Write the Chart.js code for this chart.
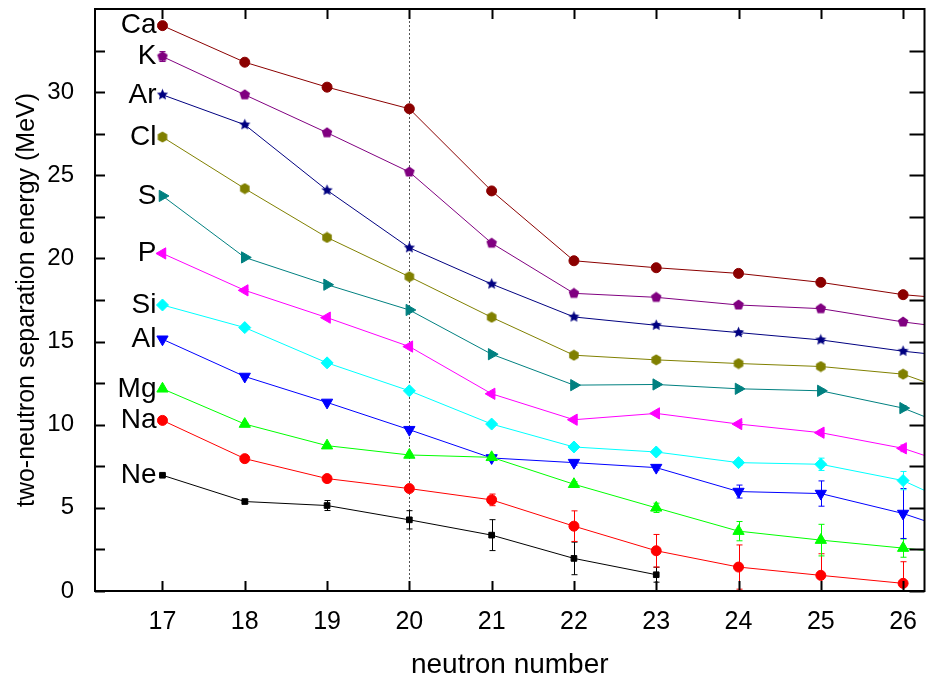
<!DOCTYPE html>
<html>
<head>
<meta charset="utf-8">
<script src="https://cdn.jsdelivr.net/npm/chart.js@4.4.1/dist/chart.umd.min.js"></script>
<style>
  html, body { margin: 0; padding: 0; background: #fff; overflow: hidden; }
  #wrap { width: 932px; height: 679px; }
</style>
</head>
<body>
<div id="wrap"><canvas id="chart" width="932" height="679"></canvas></div>
<script>
// Two-neutron separation energies (MeV) per neutron number, one array per element.
// The values at N=27 sit just outside the frame; only their line segments show.
const neutronNumbers = [17, 18, 19, 20, 21, 22, 23, 24, 25, 26, 27];
const xTicks = [17, 18, 19, 20, 21, 22, 23, 24, 25, 26];
const yTicks = [0, 2.5, 5, 7.5, 10, 12.5, 15, 17.5, 20, 22.5, 25, 27.5, 30, 32.5];
const shellClosure = 20;

const ne = [6.96, 5.38, 5.14, 4.28, 3.36, 1.96, 0.98];
const na = [10.26, 7.96, 6.76, 6.16, 5.48, 3.9, 2.42, 1.44, 0.94, 0.46];
const mg = [12.16, 10.04, 8.74, 8.18, 8.04, 6.42, 5.0, 3.6, 3.06, 2.58, 2.06];
const al = [15.14, 12.9, 11.34, 9.7, 8.0, 7.72, 7.42, 5.98, 5.86, 4.66, 3.0];
const si = [17.2, 15.84, 13.72, 12.04, 10.04, 8.66, 8.36, 7.72, 7.62, 6.64, 4.37];
const p  = [20.3, 18.08, 16.44, 14.7, 11.86, 10.3, 10.68, 10.04, 9.52, 8.58, 6.93];
const s  = [23.76, 20.06, 18.42, 16.9, 14.24, 12.38, 12.42, 12.16, 12.04, 11.0, 9.03];
const cl = [27.3, 24.2, 21.26, 18.9, 16.46, 14.18, 13.9, 13.68, 13.5, 13.04, 11.28];
const ar = [29.84, 28.04, 24.1, 20.64, 18.46, 16.48, 15.98, 15.54, 15.1, 14.42, 13.9];
const k  = [32.14, 29.84, 27.56, 25.2, 20.92, 17.9, 17.66, 17.2, 16.98, 16.18, 15.56];
const ca = [34.0, 31.8, 30.3, 29.0, 24.06, 19.86, 19.44, 19.1, 18.56, 17.82, 17.4];

// error bars (half widths, MeV)
const neErr = [0.05, 0.1, 0.3, 0.55, 0.93, 0.98, 0.45];
const naErr = [0.05, 0.05, 0.1, 0.15, 0.35, 0.92, 0.98, 1.33, 1.3, 1.3];
const mgErr = [0.05, 0.05, 0.05, 0.1, 0.1, 0.15, 0.28, 0.58, 0.95, 0.55];
const alErr = [0.05, 0.05, 0.05, 0.1, 0.1, 0.15, 0.15, 0.39, 0.76, 1.5];
const siErr = [0.05, 0.05, 0.05, 0.05, 0.1, 0.1, 0.1, 0.15, 0.37, 0.55];
const pErr  = [0.05, 0.05, 0.05, 0.05, 0.1, 0.1, 0.1, 0.1, 0.15, 0.2];
const sErr  = [0.05, 0.05, 0.05, 0.05, 0.1, 0.1, 0.1, 0.1, 0.1, 0.15];
const clErr = [0.05, 0.05, 0.05, 0.05, 0.05, 0.1, 0.1, 0.1, 0.1, 0.1];
const arErr = [0.05, 0.05, 0.05, 0.05, 0.05, 0.1, 0.1, 0.1, 0.1, 0.1];
const kErr  = [0.3, 0.05, 0.05, 0.05, 0.05, 0.1, 0.1, 0.1, 0.1, 0.1];
const caErr = [0.05, 0.05, 0.05, 0.05, 0.05, 0.1, 0.1, 0.1, 0.1, 0.1];

// little filled polygons for the markers chart.js has no shape for
function polyMarker(n, inner, size, color) {
    const c = document.createElement('canvas');
    c.width = c.height = size;
    const g = c.getContext('2d');
    const r = size / 2 - 0.5;
    const pts = inner ? n * 2 : n;
    g.fillStyle = color;
    g.beginPath();
    for (let i = 0; i < pts; i++) {
        const rr = inner && i % 2 ? r * inner : r;
        const ang = -Math.PI / 2 + i * 2 * Math.PI / pts;
        g.lineTo(size / 2 + rr * Math.cos(ang), size / 2 + rr * Math.sin(ang));
    }
    g.closePath();
    g.fill();
    return c;
}

function series(label, data, errors, color, style, radius, rotation) {
    return {
        label: label,
        data: data.map((v, i) => ({ x: neutronNumbers[i], y: v })),
        errors: errors,
        borderColor: color,
        backgroundColor: color,
        borderWidth: 1,
        pointStyle: style,
        pointRadius: radius,
        pointRotation: rotation || 0,
        pointBackgroundColor: color,
        pointBorderColor: color,
        pointBorderWidth: 1,
        tension: 0
    };
}

const datasets = [
    series('Ne', ne, neErr, '#000000', 'rect', 4),
    series('Na', na, naErr, '#ff0000', 'circle', 5),
    series('Mg', mg, mgErr, '#00ff00', 'triangle', 6.5),
    series('Al', al, alErr, '#0000ff', 'triangle', 6.5, 180),
    series('Si', si, siErr, '#00ffff', 'rectRot', 6),
    series('P', p, pErr, '#ff00ff', 'triangle', 6.5, -90),
    series('S', s, sErr, '#008080', 'triangle', 6.5, 90),
    series('Cl', cl, clErr, '#808000', polyMarker(6, 0, 12, '#808000'), 6),
    series('Ar', ar, arErr, '#000080', polyMarker(5, 0.45, 13, '#000080'), 6),
    series('K', k, kErr, '#800080', polyMarker(5, 0, 12, '#800080'), 6),
    series('Ca', ca, caErr, '#8b0000', 'circle', 5)
];

const framePlugin = {
    id: 'frame',
    beforeDatasetsDraw(chart) {
        const { ctx, chartArea: a, scales: { x, y } } = chart;
        ctx.save();
        // dotted line at the N=20 shell closure
        const xs = Math.round(x.getPixelForValue(shellClosure)) + 0.5;
        ctx.strokeStyle = '#555';
        ctx.lineWidth = 1;
        ctx.setLineDash([2, 2]);
        ctx.beginPath();
        ctx.moveTo(xs, a.top);
        ctx.lineTo(xs, a.bottom);
        ctx.stroke();
        ctx.setLineDash([]);

        // error bars
        ctx.beginPath();
        ctx.rect(a.left, a.top, a.width, a.height);
        ctx.clip();
        chart.data.datasets.forEach(ds => {
            ctx.strokeStyle = ds.borderColor;
            ds.errors.forEach((e, i) => {
                const pt = ds.data[i];
                const px = Math.round(x.getPixelForValue(pt.x)) + 0.5;
                const y1 = y.getPixelForValue(pt.y + e);
                const y2 = y.getPixelForValue(pt.y - e);
                ctx.beginPath();
                ctx.moveTo(px, y1); ctx.lineTo(px, y2);
                ctx.moveTo(px - 3, y1); ctx.lineTo(px + 3, y1);
                ctx.moveTo(px - 3, y2); ctx.lineTo(px + 3, y2);
                ctx.stroke();
            });
        });
        ctx.restore();
    },
    afterDraw(chart) {
        const { ctx, chartArea: a, scales: { x, y } } = chart;
        ctx.save();
        ctx.strokeStyle = '#000';
        ctx.lineWidth = 2;
        ctx.strokeRect(a.left, a.top, a.right - a.left, a.bottom - a.top);
        // inward ticks
        ctx.beginPath();
        x.ticks.forEach(t => {
            const px = Math.round(x.getPixelForValue(t.value)) + 0.5;
            ctx.moveTo(px, a.bottom); ctx.lineTo(px, a.bottom - 10);
            ctx.moveTo(px, a.top); ctx.lineTo(px, a.top + 10);
        });
        y.ticks.forEach(t => {
            const py = Math.round(y.getPixelForValue(t.value)) + 0.5;
            ctx.moveTo(a.left, py); ctx.lineTo(a.left + 10, py);
            ctx.moveTo(a.right, py); ctx.lineTo(a.right - 15, py);
        });
        ctx.stroke();

        // element names left of the first point
        ctx.fillStyle = '#000';
        ctx.font = '28px "Liberation Sans", Arial, sans-serif';
        ctx.textAlign = 'right';
        ctx.textBaseline = 'middle';
        chart.data.datasets.forEach(ds => {
            const pt = ds.data[0];
            ctx.fillText(ds.label, x.getPixelForValue(pt.x) - 6, y.getPixelForValue(pt.y));
        });
        ctx.restore();
    }
};

// pin the plot frame: no automatic label padding around the scales
function fitX(scale) {
    scale.height = 88;
    scale.paddingLeft = 0;
    scale.paddingRight = 0;
}
function fitY(scale) {
    scale.width = 95;
    scale.paddingTop = 0;
    scale.paddingBottom = 0;
}

new Chart(document.getElementById('chart'), {
    type: 'line',
    data: { datasets: datasets },
    options: {
        responsive: false,
        animation: false,
        events: [],
        layout: { padding: { left: 0, top: 9, right: 4, bottom: 0 } },
        plugins: { legend: { display: false }, tooltip: { enabled: false } },
        scales: {
            x: {
                type: 'linear',
                min: 16.18,
                max: 26.26,
                afterBuildTicks: scale => { scale.ticks = xTicks.map(v => ({ value: v })); },
                afterFit: fitX,
                grid: { display: false },
                border: { display: false },
                ticks: {
                    color: '#000',
                    padding: 8,
                    font: { family: '"Liberation Sans", Arial', size: 25 }
                },
                title: {
                    display: true,
                    text: 'neutron number',
                    color: '#000',
                    padding: { top: 3, bottom: 0 },
                    font: { family: '"Liberation Sans", Arial', size: 28, lineHeight: 1 }
                }
            },
            y: {
                type: 'linear',
                min: 0,
                max: 35,
                afterBuildTicks: scale => { scale.ticks = yTicks.map(v => ({ value: v })); },
                afterFit: fitY,
                grid: { display: false },
                border: { display: false },
                ticks: {
                    color: '#000',
                    padding: 13,
                    font: { family: '"Liberation Sans", Arial', size: 24 },
                    callback: v => (v % 5 === 0 ? v : '')
                },
                title: {
                    display: true,
                    text: 'two-neutron separation energy (MeV)',
                    color: '#000',
                    padding: { top: 15, bottom: 0 },
                    font: { family: '"Liberation Sans", Arial', size: 25, lineHeight: 1 }
                }
            }
        }
    },
    plugins: [framePlugin]
});
</script>
</body>
</html>
